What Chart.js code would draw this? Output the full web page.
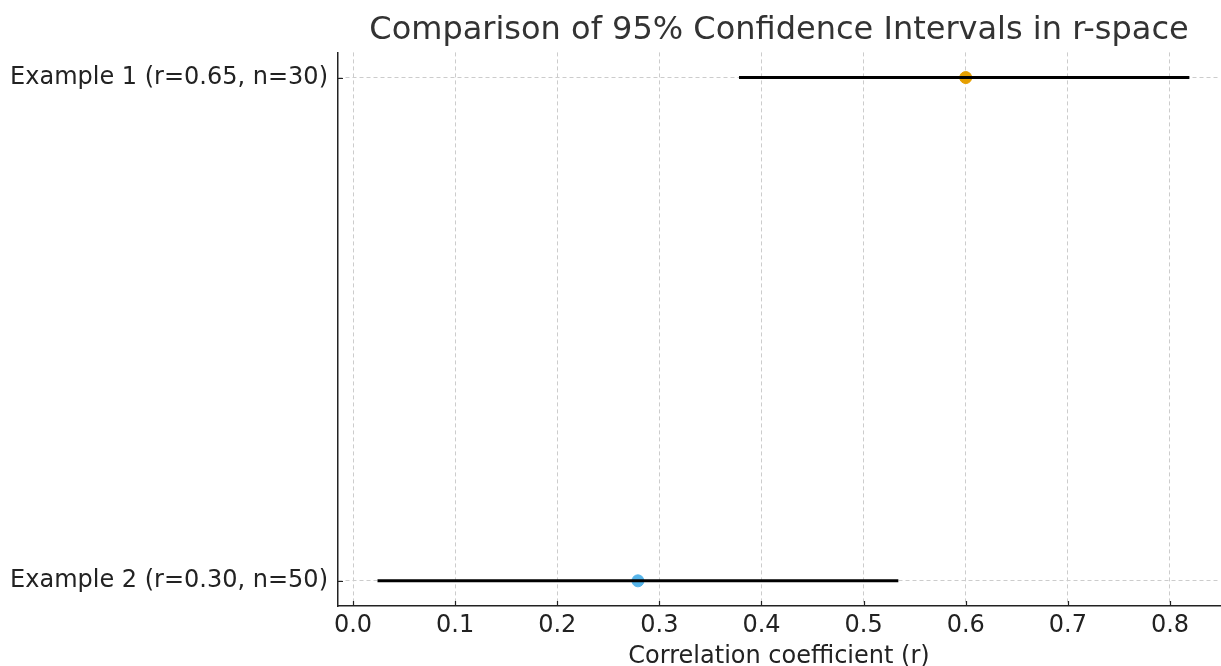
<!DOCTYPE html>
<html lang="en">
<head>
  <meta charset="UTF-8">
  <title>Comparison of 95% Confidence Intervals in r-space</title>
  <script src="https://cdn.jsdelivr.net/npm/chart.js"></script>
  <style>
    html, body {
      margin: 0;
      padding: 0;
      background: #ffffff;
      overflow: hidden;
    }
    canvas {
      display: block;
    }
  </style>
</head>
<body>
<canvas id="ciChart" width="1221" height="666"></canvas>

<script>
  // data
  const labels = ['Example 1 (r=0.65, n=30)', 'Example 2 (r=0.30, n=50)'];
  const rows = [1, 0];               // y position of each example (top to bottom)
  const lower = [0.378, 0.024];
  const upper = [0.819, 0.534];
  const estimate = [0.600, 0.279];
  const pointColors = ['#E69F00', '#56B4E9'];
  const xTicks = [0.0, 0.1, 0.2, 0.3, 0.4, 0.5, 0.6, 0.7, 0.8];

  const font = "'DejaVu Sans', sans-serif";

  const datasets = [];
  labels.forEach((lab, i) => {
    datasets.push({
      type: 'line',
      label: lab + ' CI',
      data: [{x: lower[i], y: rows[i]}, {x: upper[i], y: rows[i]}],
      borderColor: '#000000',
      borderWidth: 3,
      pointRadius: 0,
      fill: false
    });
  });
  labels.forEach((lab, i) => {
    datasets.push({
      type: 'scatter',
      label: lab,
      data: [{x: estimate[i], y: rows[i]}],
      backgroundColor: pointColors[i],
      borderColor: pointColors[i],
      pointRadius: 6,
      pointHoverRadius: 6
    });
  });

  // tick marks point inward, like the original figure
  const innerTicks = {
    id: 'innerTicks',
    afterDraw(chart) {
      const ctx = chart.ctx;
      const x = chart.scales.x, y = chart.scales.y;
      const len = 5;
      ctx.save();
      ctx.strokeStyle = '#222222';
      ctx.lineWidth = 1.2;
      ctx.beginPath();
      x.ticks.forEach(t => {
        const px = Math.round(x.getPixelForValue(t.value)) + 0.5;
        ctx.moveTo(px, x.top);
        ctx.lineTo(px, x.top - len);
      });
      y.ticks.forEach(t => {
        const py = Math.round(y.getPixelForValue(t.value)) + 0.5;
        ctx.moveTo(y.right, py);
        ctx.lineTo(y.right + len, py);
      });
      ctx.stroke();
      ctx.restore();
    }
  };

  new Chart(document.getElementById('ciChart'), {
    type: 'scatter',
    data: { datasets: datasets },
    plugins: [innerTicks],
    options: {
      responsive: false,
      animation: false,
      layout: { autoPadding: false, padding: { top: 0, right: 1, left: 0, bottom: 0 } },
      plugins: {
        legend: { display: false },
        tooltip: { enabled: false },
        title: {
          display: true,
          fullSize: false,
          text: 'Comparison of 95% Confidence Intervals in r-space',
          color: '#333333',
          font: { family: font, size: 32, weight: 'normal', lineHeight: 1.2 },
          padding: { top: 11, bottom: 3 }
        }
      },
      scales: {
        x: {
          type: 'linear',
          min: -0.0147,
          max: 0.849,
          afterBuildTicks: s => { s.ticks = xTicks.map(v => ({ value: v })); },
          ticks: {
            color: '#222222',
            font: { family: font, size: 24 },
            padding: 5,
            maxRotation: 0,
            callback: v => Number(v).toFixed(1)
          },
          grid: {
            color: '#cccccc',
            lineWidth: 1,
            drawTicks: false
          },
          border: { display: true, color: '#222222', width: 1.5, dash: [4, 3] },
          title: {
            display: true,
            text: 'Correlation coefficient (r)',
            color: '#222222',
            font: { family: font, size: 24, lineHeight: 1.1 },
            padding: { top: 0, bottom: -4 }
          },
          afterFit: s => { s.height = 60; s.paddingLeft = 0; s.paddingRight = 0; }
        },
        y: {
          type: 'linear',
          min: -0.05,
          max: 1.05,
          afterBuildTicks: s => { s.ticks = rows.map(v => ({ value: v })); },
          ticks: {
            color: '#222222',
            font: { family: font, size: 24 },
            padding: 10,
            callback: v => labels[rows.indexOf(v)]
          },
          grid: {
            color: '#cccccc',
            lineWidth: 1,
            drawTicks: false
          },
          border: { display: true, color: '#222222', width: 1.5, dash: [4, 3] },
          afterFit: s => { s.width = 338; }
        }
      }
    }
  });
</script>
</body>
</html>
